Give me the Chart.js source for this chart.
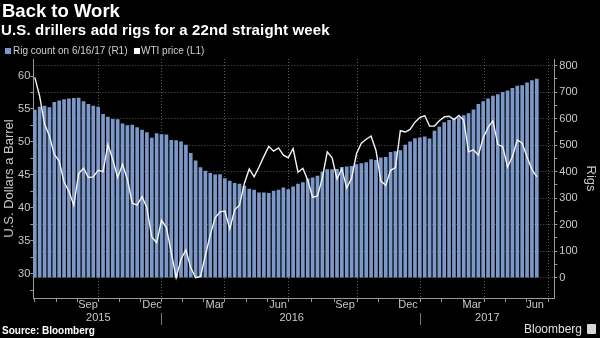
<!DOCTYPE html>
<html>
<head>
<meta charset="utf-8">
<script src="https://cdn.jsdelivr.net/npm/chart.js@4.4.1/dist/chart.umd.min.js"></script>
<style>
  html, body { margin: 0; padding: 0; background: #000; }
  #wrap { position: relative; width: 600px; height: 338px; background: #000; overflow: hidden;
          font-family: "Liberation Sans", Arial, sans-serif; }
  #c { position: absolute; left: 0; top: 0; }
  .t { position: absolute; white-space: nowrap; line-height: 1; }
  .sq { position: absolute; width: 6px; height: 6px; }
</style>
</head>
<body>
<div id="wrap">
  <canvas id="c" width="600" height="338"></canvas>
  <div class="t" style="left:2px;top:2px;font-size:18.5px;font-weight:bold;color:#fff;">Back to Work</div>
  <div class="t" style="left:1px;top:22px;font-size:15px;font-weight:bold;color:#fff;letter-spacing:0.15px;">U.S. drillers add rigs for a 22nd straight week</div>
  <div class="sq" style="left:5px;top:48px;background:#7b98c8;"></div>
  <div class="t" style="left:13px;top:46px;font-size:10px;color:#d0d0d0;">Rig count on 6/16/17 (R1)</div>
  <div class="sq" style="left:134px;top:48px;background:#fff;"></div>
  <div class="t" style="left:141px;top:46px;font-size:10px;color:#d0d0d0;">WTI price (L1)</div>
  <div class="t" style="left:2px;top:326px;font-size:10px;font-weight:bold;color:#fff;">Source: Bloomberg</div>
  <div class="t" style="left:524px;top:323px;font-size:12px;color:#e0e0e0;">Bloomberg</div>
  <div style="position:absolute;left:587px;top:324px;width:9px;height:10px;background:#d8d8d8;border-radius:1px;"></div>
</div>
<script>
// weekly Friday counts, first week ending 2015-06-26, last 2017-06-16
const firstWeek = '2015-06-26';

const rigCount = [
  632, 643, 647, 641, 661, 667, 672, 674, 676, 677,
  664, 654, 647, 643, 616, 606, 597, 596, 580, 574,
  575, 566, 557, 547, 526, 543, 540, 539, 518, 517,
  512, 500, 469, 441, 415, 402, 394, 388, 389, 374,
  364, 356, 353, 346, 334, 330, 320, 320, 318, 327,
  330, 339, 332, 343, 353, 359, 373, 377, 383, 398,
  408, 408, 409, 416, 418, 420, 427, 430, 434, 445,
  443, 452, 454, 473, 476, 479, 500, 512, 525, 527,
  531, 524, 553, 568, 585, 593, 599, 604, 611, 619,
  633, 654, 664, 674, 685, 690, 699, 705, 714, 722,
  724, 735, 743, 749
];

const wtiPrice = [
  59.8, 56.9, 52.7, 50.9, 48.1, 47.1, 43.9, 42.5, 40.4, 45.2,
  46.0, 44.6, 44.7, 45.7, 45.5, 49.6, 47.3, 44.6, 46.6, 44.3,
  40.7, 40.4, 41.7, 40.0, 35.6, 34.7, 38.1, 37.0, 33.2, 29.4,
  32.2, 33.6, 30.9, 29.4, 29.6, 32.8, 35.9, 38.5, 39.4, 39.5,
  36.8, 39.7, 40.4, 43.7, 45.9, 44.7, 46.2, 47.8, 49.3, 48.6,
  49.1, 48.0, 47.6, 49.0, 45.4, 46.0, 44.2, 41.6, 41.8, 44.5,
  48.5, 47.6, 44.4, 45.9, 43.0, 44.5, 48.2, 49.8, 50.4, 50.9,
  48.7, 44.1, 43.4, 45.7, 46.1, 51.7, 51.5, 51.9, 53.0, 53.7,
  54.0, 52.4, 52.4, 53.2, 53.8, 53.9, 53.4, 54.0, 53.3, 48.5,
  48.8, 48.0, 50.6, 52.2, 53.2, 49.6, 49.3, 46.2, 47.8, 50.3,
  49.8, 47.7, 45.8, 44.7
];

// x axis is in weeks from the first bar
const monthLabels   = ['Sep', 'Dec', 'Mar', 'Jun', 'Sep', 'Dec', 'Mar', 'Jun'];
const monthLabelAt  = [10.92, 24.05, 36.97, 49.90, 63.64, 76.57, 89.70, 102.63];
const quarterLineAt = [13.03, 26.04, 39.02, 52.01, 66.21, 79.17, 92.22, 105.35];
const yearLabels    = ['2015', '2016', '2017'];
const yearLabelAt   = [13.03, 52.71, 92.84];
const yearBreakAt   = [26.04, 79.17];

const priceTicks = [30, 35, 40, 45, 50, 55, 60];
const rigTicks   = [0, 100, 200, 300, 400, 500, 600, 700, 800];

const xMin = -0.31, xMax = 106.59;

const weekLabels = rigCount.map((_, i) => {
  const d = new Date(firstWeek + 'T00:00:00Z');
  d.setUTCDate(d.getUTCDate() + 7 * i);
  return d.toISOString().slice(0, 10);
});

// month ticks: quarter lines plus the two months in between
const monthTicks = [];
for (let k = 3; k >= 1; k--) monthTicks.push(quarterLineAt[0] - k * (quarterLineAt[1] - quarterLineAt[0]) / 3);
quarterLineAt.forEach((q, i) => {
  monthTicks.push(q);
  if (i < quarterLineAt.length - 1) {
    const step = (quarterLineAt[i + 1] - q) / 3;
    monthTicks.push(q + step, q + 2 * step);
  }
});

const xTicks = [
  ...monthTicks.filter(v => v >= xMin && v <= xMax).map(v => ({
    value: v, kind: quarterLineAt.includes(v) ? 'quarter' : 'month'
  })),
  ...monthLabelAt.map((v, i) => ({ value: v, kind: 'label', text: monthLabels[i] }))
].sort((a, b) => a.value - b.value);

const yearTicks = [
  ...yearLabelAt.map((v, i) => ({ value: v, kind: 'label', text: yearLabels[i] })),
  ...yearBreakAt.map(v => ({ value: v, kind: 'break' }))
].sort((a, b) => a.value - b.value);

// labelled ticks plus an unlabelled half step below each one
function withMinor(list) {
  const half = (list[1] - list[0]) / 2;
  const out = [];
  list.forEach(v => {
    out.push({ value: v - half, kind: 'minor' });
    out.push({ value: v, kind: 'major', text: String(v) });
  });
  return out;
}

const FONT = '"Liberation Sans", Arial, sans-serif';
const tickFont = { family: FONT, size: 11 };
const textGrey = '#c8c8c8';
const axisGrey = '#9a9a9a';
const gridGrey = '#5a5a5a';
const barBlue = '#7b98c8';
const clear = 'rgba(0,0,0,0)';

const tickText = function (v, i) { const t = this.ticks[i]; return t && t.text ? t.text : ''; };

new Chart(document.getElementById('c'), {
  data: {
    labels: weekLabels,
    datasets: [
      {
        type: 'line',
        label: 'WTI price (L1)',
        data: wtiPrice.map((v, i) => ({ x: i, y: v })),
        xAxisID: 'x', yAxisID: 'y',
        borderColor: '#f4f4f4', borderWidth: 1.4,
        pointRadius: 0, tension: 0, order: 0
      },
      {
        type: 'bar',
        label: 'Rig count on 6/16/17 (R1)',
        data: rigCount.map((v, i) => ({ x: i, y: v })),
        xAxisID: 'x', yAxisID: 'y1',
        backgroundColor: barBlue, borderWidth: 0,
        barThickness: 3, order: 1
      }
    ]
  },
  options: {
    responsive: false,
    animation: false,
    layout: { padding: { top: 59, left: 0, right: 0, bottom: 0 } },
    plugins: { legend: { display: false }, tooltip: { enabled: false }, title: { display: false } },
    scales: {
      x: {
        type: 'linear', position: 'bottom', min: xMin, max: xMax, bounds: 'data', weight: 0, offset: false,
        afterBuildTicks: (s) => { s.ticks = xTicks.map(t => ({ ...t })); },
        afterFit: (s) => { s.height = 15; },
        ticks: {
          autoSkip: false, maxRotation: 0, minRotation: 0, padding: -4,
          color: textGrey, font: tickFont, callback: tickText
        },
        grid: {
          offset: false, drawOnChartArea: true, tickLength: 4, lineWidth: 1,
          color: (ctx) => ctx.tick && ctx.tick.kind === 'quarter' ? gridGrey : clear,
          tickColor: (ctx) => ctx.tick && ctx.tick.kind !== 'label' ? axisGrey : clear
        },
        border: { display: true, color: axisGrey, dash: [1, 2] }
      },
      x2: {
        type: 'linear', position: 'bottom', min: xMin, max: xMax, bounds: 'data', weight: 1, offset: false,
        afterBuildTicks: (s) => { s.ticks = yearTicks.map(t => ({ ...t })); },
        afterFit: (s) => { s.height = 25; },
        ticks: {
          autoSkip: false, maxRotation: 0, minRotation: 0, padding: -14,
          color: textGrey, font: tickFont, callback: tickText
        },
        grid: {
          offset: false, drawOnChartArea: false, tickLength: 12,
          color: clear,
          tickColor: (ctx) => ctx.tick && ctx.tick.kind === 'break' ? '#777' : clear
        },
        border: { display: false }
      },
      y: {
        type: 'linear', position: 'left', min: 26.32, max: 62.58, bounds: 'data',
        afterBuildTicks: (s) => { s.ticks = withMinor(priceTicks).filter(t => t.value >= s.min && t.value <= s.max); },
        afterFit: (s) => { s.width = 33.3; },
        ticks: {
          autoSkip: false, padding: 0,
          color: textGrey, font: tickFont, callback: tickText
        },
        grid: { drawOnChartArea: false, tickLength: 3, tickColor: axisGrey },
        border: { display: true, color: axisGrey },
        title: {
          display: true, text: 'U.S. Dollars a Barrel', color: textGrey,
          font: { family: FONT, size: 13 }, padding: { top: 1.2, bottom: 0 }
        }
      },
      y1: {
        type: 'linear', position: 'right', min: -76.3, max: 824.5, bounds: 'data', beginAtZero: false,
        afterBuildTicks: (s) => { s.ticks = withMinor(rigTicks).filter(t => t.value >= 0 && t.value <= s.max); },
        afterFit: (s) => { s.width = 45.7; },
        ticks: {
          autoSkip: false, padding: 2,
          color: textGrey, font: tickFont, callback: tickText
        },
        grid: {
          drawOnChartArea: true, tickLength: 3, tickColor: axisGrey,
          color: (ctx) => ctx.tick && ctx.tick.kind === 'major' ? gridGrey : clear
        },
        border: { display: true, color: axisGrey, dash: [1, 2] },
        title: {
          display: true, text: 'Rigs', color: textGrey,
          font: { family: FONT, size: 13 }, padding: { top: 1.5, bottom: 0 }
        }
      }
    }
  }
});
</script>
</body>
</html>
